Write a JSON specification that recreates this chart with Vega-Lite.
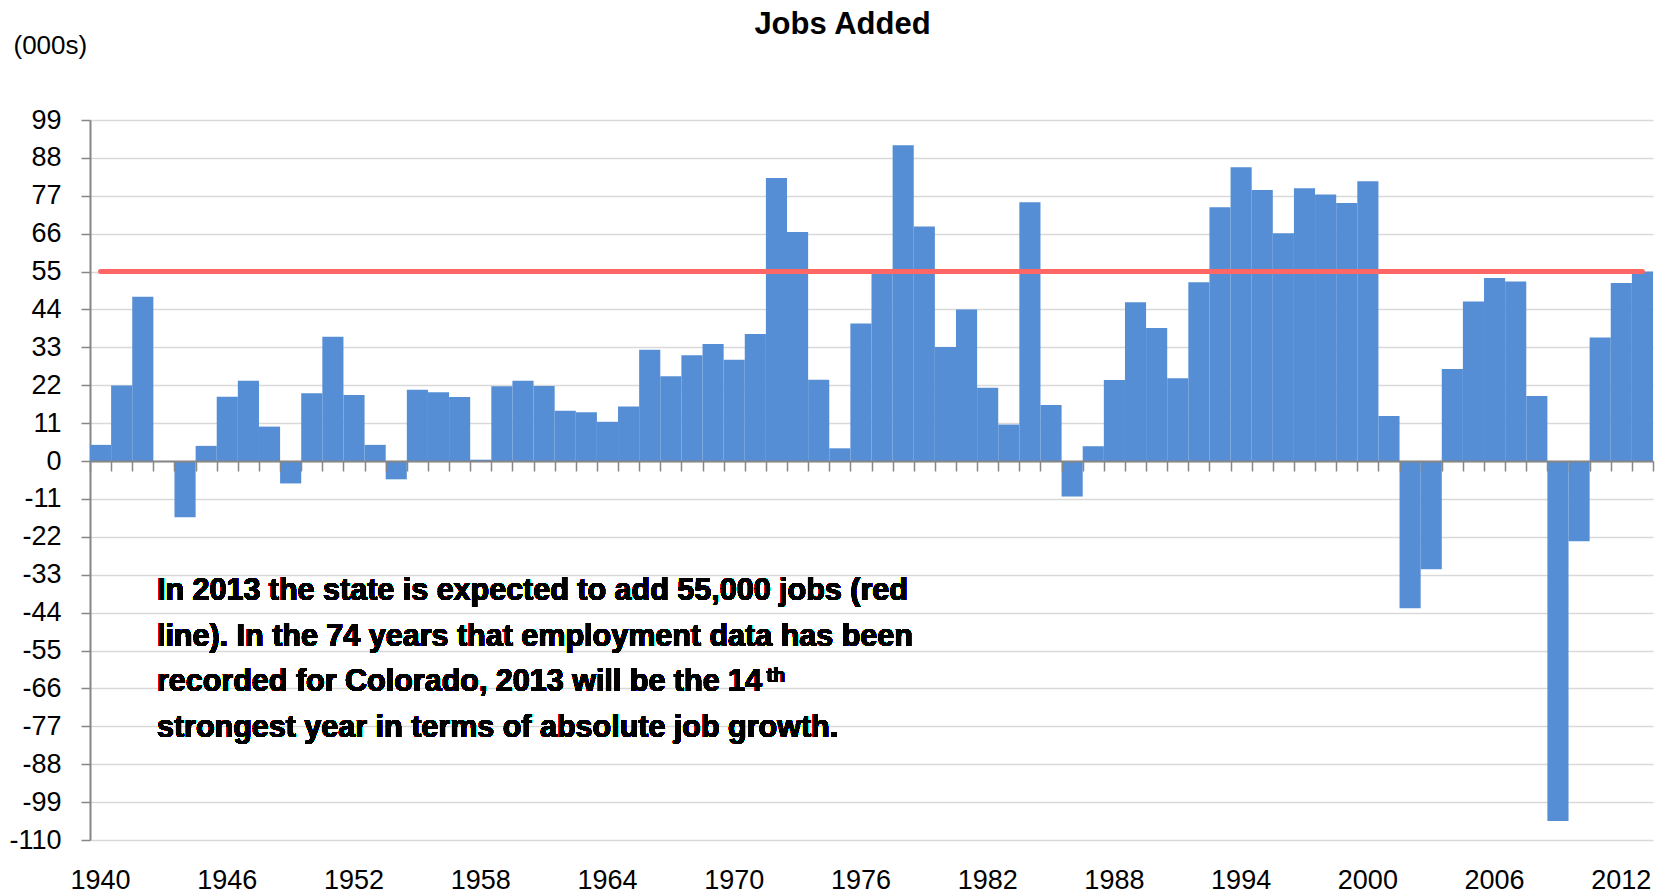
{
  "$schema": "https://vega.github.io/schema/vega-lite/v6.json",
  "width": 1563,
  "height": 720,
  "autosize": {"type": "none"},
  "padding": {"left": 90, "top": 120, "right": 12, "bottom": 55},
  "background": "white",
  "config": {"view": {"stroke": null}, "font": "Liberation Sans"},
  "title": {"text": "Jobs Added", "font": "Liberation Sans", "fontSize": 31, "fontWeight": "bold", "anchor": "middle", "dx": -29, "offset": -9, "color": "black"},
  "data": {"values": [
    {"year": 1940, "jobs": 4.7}, {"year": 1941, "jobs": 21.9}, {"year": 1942, "jobs": 47.7}, {"year": 1943, "jobs": 0},
    {"year": 1944, "jobs": -16.3}, {"year": 1945, "jobs": 4.4}, {"year": 1946, "jobs": 18.7}, {"year": 1947, "jobs": 23.3},
    {"year": 1948, "jobs": 10.0}, {"year": 1949, "jobs": -6.5}, {"year": 1950, "jobs": 19.7}, {"year": 1951, "jobs": 36.1},
    {"year": 1952, "jobs": 19.2}, {"year": 1953, "jobs": 4.7}, {"year": 1954, "jobs": -5.3}, {"year": 1955, "jobs": 20.7},
    {"year": 1956, "jobs": 20.0}, {"year": 1957, "jobs": 18.6}, {"year": 1958, "jobs": 0.4}, {"year": 1959, "jobs": 21.7},
    {"year": 1960, "jobs": 23.3}, {"year": 1961, "jobs": 21.8}, {"year": 1962, "jobs": 14.6}, {"year": 1963, "jobs": 14.2},
    {"year": 1964, "jobs": 11.4}, {"year": 1965, "jobs": 15.8}, {"year": 1966, "jobs": 32.3}, {"year": 1967, "jobs": 24.6},
    {"year": 1968, "jobs": 30.7}, {"year": 1969, "jobs": 34.0}, {"year": 1970, "jobs": 29.4}, {"year": 1971, "jobs": 36.9},
    {"year": 1972, "jobs": 82.2}, {"year": 1973, "jobs": 66.5}, {"year": 1974, "jobs": 23.6}, {"year": 1975, "jobs": 3.7},
    {"year": 1976, "jobs": 39.9}, {"year": 1977, "jobs": 54.3}, {"year": 1978, "jobs": 91.7}, {"year": 1979, "jobs": 68.1},
    {"year": 1980, "jobs": 33.1}, {"year": 1981, "jobs": 44.0}, {"year": 1982, "jobs": 21.3}, {"year": 1983, "jobs": 10.6},
    {"year": 1984, "jobs": 75.1}, {"year": 1985, "jobs": 16.3}, {"year": 1986, "jobs": -10.3}, {"year": 1987, "jobs": 4.3},
    {"year": 1988, "jobs": 23.5}, {"year": 1989, "jobs": 46.1}, {"year": 1990, "jobs": 38.6}, {"year": 1991, "jobs": 24.0},
    {"year": 1992, "jobs": 51.9}, {"year": 1993, "jobs": 73.7}, {"year": 1994, "jobs": 85.3}, {"year": 1995, "jobs": 78.7},
    {"year": 1996, "jobs": 66.1}, {"year": 1997, "jobs": 79.2}, {"year": 1998, "jobs": 77.4}, {"year": 1999, "jobs": 74.9},
    {"year": 2000, "jobs": 81.2}, {"year": 2001, "jobs": 13.1}, {"year": 2002, "jobs": -42.7}, {"year": 2003, "jobs": -31.4},
    {"year": 2004, "jobs": 26.7}, {"year": 2005, "jobs": 46.3}, {"year": 2006, "jobs": 53.1}, {"year": 2007, "jobs": 52.1},
    {"year": 2008, "jobs": 18.9}, {"year": 2009, "jobs": -104.5}, {"year": 2010, "jobs": -23.3}, {"year": 2011, "jobs": 35.9},
    {"year": 2012, "jobs": 51.7}, {"year": 2013, "jobs": 55.0}
  ]},
  "layer": [
    {
      "mark": {"type": "bar", "color": "#558ED5"},
      "encoding": {
        "x": {"field": "year", "type": "ordinal", "scale": {"paddingInner": 0, "paddingOuter": 0},
              "axis": {"orient": "bottom", "offset": -379, "labels": false, "tickBand": "extent", "tickSize": 10, "tickColor": "#868686", "tickWidth": 1.5, "domainColor": "#868686", "domainWidth": 2, "title": null, "grid": false, "zindex": 1}},
        "y": {"field": "jobs", "type": "quantitative", "scale": {"domain": [-110, 99], "nice": false, "zero": false},
              "axis": {"values": [-110, -99, -88, -77, -66, -55, -44, -33, -22, -11, 0, 11, 22, 33, 44, 55, 66, 77, 88, 99],
                       "labelExpr": "'' + datum.value",
                       "labelFontSize": 27, "labelColor": "black", "labelFont": "Liberation Sans", "tickSize": 9, "tickColor": "#868686", "tickWidth": 1.5,
                       "domainColor": "#868686", "domainWidth": 2, "labelPadding": 20, "grid": true, "gridColor": "#d9d9d9", "gridWidth": 1.5,
                       "title": "(000s)", "titleAngle": 0, "titleAlign": "left", "titleBaseline": "middle", "titleX": -77, "titleY": -75,
                       "titleFontSize": 26, "titleFontWeight": "normal", "titleColor": "black", "titleFont": "Liberation Sans"}}
      }
    },
    {
      "mark": {"type": "line", "color": "#FF6666", "strokeWidth": 5, "strokeCap": "round"},
      "encoding": {
        "x": {"field": "year", "type": "ordinal",
              "axis": {"orient": "bottom", "values": [1940, 1946, 1952, 1958, 1964, 1970, 1976, 1982, 1988, 1994, 2000, 2006, 2012],
                       "ticks": false, "tickSize": 0, "domain": false, "labelFontSize": 27, "labelPadding": 27, "labelAngle": 0,
                       "labelColor": "black", "labelFont": "Liberation Sans", "title": null, "grid": false}},
        "y": {"datum": 55, "type": "quantitative", "axis": null}
      }
    },
    {
      "mark": {"type": "text", "align": "left", "baseline": "middle", "dx": -7, "font": "Liberation Sans", "fontSize": 30.5, "fontWeight": "bold", "color": "black", "lineHeight": 45.6,
               "text": ["In 2013 the state is expected to add 55,000 jobs (red", "line). In the 74 years that employment data has been", "recorded for Colorado, 2013 will be the 14", "strongest year in terms of absolute job growth."]},
      "encoding": {
        "x": {"datum": 1943, "type": "ordinal", "axis": null},
        "y": {"datum": -37.7, "type": "quantitative", "axis": null}
      }
    },
    {
      "mark": {"type": "text", "align": "left", "baseline": "middle", "dx": -10, "font": "Liberation Sans", "fontSize": 20, "fontWeight": "bold", "color": "black", "text": "th"},
      "encoding": {
        "x": {"datum": 1972, "type": "ordinal", "axis": null},
        "y": {"datum": -62.4, "type": "quantitative", "axis": null}
      }
    }
  ],
  "resolve": {"axis": {"x": "independent", "y": "independent"}}
}
